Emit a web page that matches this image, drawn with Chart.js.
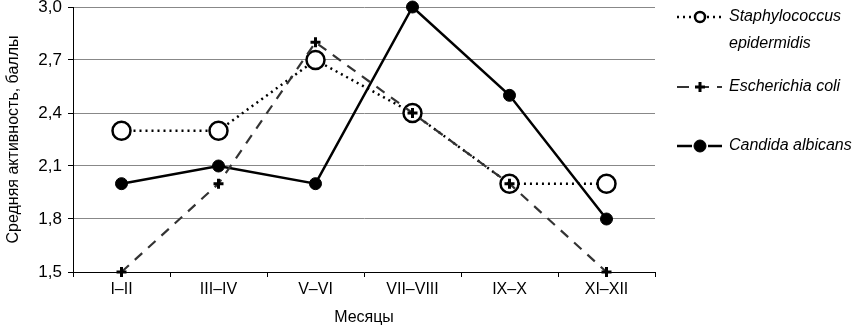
<!DOCTYPE html>
<html>
<head>
<meta charset="utf-8">
<script src="https://cdn.jsdelivr.net/npm/chart.js@4.4.1/dist/chart.umd.min.js"></script>
<style>
body { margin: 0; background: #fff; }
#wrap { width: 856px; height: 327px; }
</style>
</head>
<body>
<div id="wrap"><canvas id="chart"></canvas></div>
<script>
"use strict";

var months = ["I–II", "III–IV", "V–VI", "VII–VIII", "IX–X", "XI–XII"];
var staphValues = [2.3, 2.3, 2.7, 2.4, 2.0, 2.0];
var coliValues = [1.5, 2.0, 2.8, 2.4, 2.0, 1.5];
var candidaValues = [2.0, 2.1, 2.0, 3.0, 2.5, 1.8];
var legendNames = [["Staphylococcus", "epidermidis"], ["Escherichia coli"], ["Candida albicans"]];

var fontFamily = "'Liberation Sans', Arial, sans-serif";

// legend drawn by hand so the first name can wrap over two lines
var sideLegend = {
	id: "sideLegend",
	afterDraw: function(chart) {
		var ctx = chart.ctx;
		var rows = [17, 87, 146];
		var sets = chart.data.datasets;
		ctx.save();
		for (var i = 0; i < sets.length; i++) {
			var ds = sets[i];
			var y = rows[i];
			ctx.strokeStyle = ds.borderColor;
			ctx.lineWidth = ds.borderWidth;
			ctx.setLineDash(ds.legendDash || []);
			ctx.beginPath();
			ctx.moveTo(677, y);
			ctx.lineTo(722, y);
			ctx.stroke();
			ctx.setLineDash([]);
			if (ds.pointStyle === "circle") {
				ctx.fillStyle = "#fff";
				ctx.fillRect(700 - ds.legendRadius - 2, y - 3, ds.legendRadius * 2 + 4, 6);
			}
			ctx.fillStyle = ds.pointBackgroundColor;
			ctx.strokeStyle = ds.pointBorderColor;
			ctx.lineWidth = ds.pointBorderWidth;
			Chart.helpers.drawPoint(ctx, {
				pointStyle: ds.pointStyle,
				radius: ds.legendRadius,
				borderWidth: ds.pointBorderWidth,
				rotation: 0
			}, 700, y);
			ctx.fillStyle = "#000";
			ctx.font = "italic 16px " + fontFamily;
			ctx.textBaseline = "middle";
			var lines = legendNames[i];
			for (var j = 0; j < lines.length; j++) {
				ctx.fillText(lines[j], 729, y + j * 27);
			}
		}
		ctx.restore();
	}
};

var ctx = document.getElementById("chart");
var chart = new Chart(ctx, {
	type: "line",
	data: {
		labels: months,
		datasets: [
			{
				label: "Staphylococcus epidermidis",
				data: staphValues,
				order: 1,
				clip: false,
				borderColor: "#000",
				borderWidth: 2.5,
				borderDash: [2, 4],
				legendDash: [2, 4],
				pointStyle: "circle",
				pointRadius: 9,
				legendRadius: 5,
				pointBorderWidth: 2.5,
				pointBackgroundColor: "#fff",
				pointBorderColor: "#000",
				fill: false
			},
			{
				label: "Escherichia coli",
				data: coliValues,
				order: 0,
				clip: false,
				borderColor: "#333",
				borderWidth: 2.2,
				borderDash: [10, 8],
				legendDash: [12, 8],
				pointStyle: "cross",
				pointRadius: 5,
				legendRadius: 5,
				pointBorderWidth: 3,
				pointBackgroundColor: "#000",
				pointBorderColor: "#000",
				fill: false
			},
			{
				label: "Candida albicans",
				data: candidaValues,
				order: 2,
				clip: false,
				borderColor: "#000",
				borderWidth: 2.5,
				pointStyle: "circle",
				pointRadius: 6,
				legendRadius: 6,
				pointBorderWidth: 1,
				pointBackgroundColor: "#000",
				pointBorderColor: "#000",
				fill: false
			}
		]
	},
	options: {
		responsive: true,
		maintainAspectRatio: false,
		animation: false,
		layout: { autoPadding: false, padding: { top: 7, right: 201, left: 0, bottom: 0 } },
		plugins: {
			legend: { display: false },
			tooltip: { enabled: false }
		},
		scales: {
			x: {
				offset: true,
				grid: {
					offset: true,
					drawOnChartArea: false,
					drawTicks: true,
					tickLength: 5,
					color: "#000"
				},
				border: { color: "#000", width: 1 },
				ticks: {
					color: "#000",
					font: { family: fontFamily, size: 16 },
					padding: 3,
					maxRotation: 0
				},
				title: {
					display: true,
					text: "Месяцы",
					color: "#000",
					font: { family: fontFamily, size: 16 },
					padding: { top: 4, bottom: 0 }
				},
				afterFit: function(scale) { scale.height = 55; }
			},
			y: {
				min: 1.5,
				max: 3.0,
				grid: {
					color: "#888",
					lineWidth: 1,
					tickLength: 5,
					tickColor: "#000"
				},
				border: { color: "#000", width: 1 },
				ticks: {
					stepSize: 0.3,
					color: "#000",
					font: { family: fontFamily, size: 17 },
					padding: 6,
					callback: function(v) { return v.toFixed(1).replace(".", ","); }
				},
				title: {
					display: true,
					text: "Средняя активность, баллы",
					color: "#000",
					font: { family: fontFamily, size: 16 },
					padding: { top: 4, bottom: 4 }
				},
				afterFit: function(scale) {
					scale.width = 73;
					scale.paddingTop = 0;
					scale.paddingBottom = 0;
				}
			}
		}
	},
	plugins: [sideLegend]
});
</script>
</body>
</html>
